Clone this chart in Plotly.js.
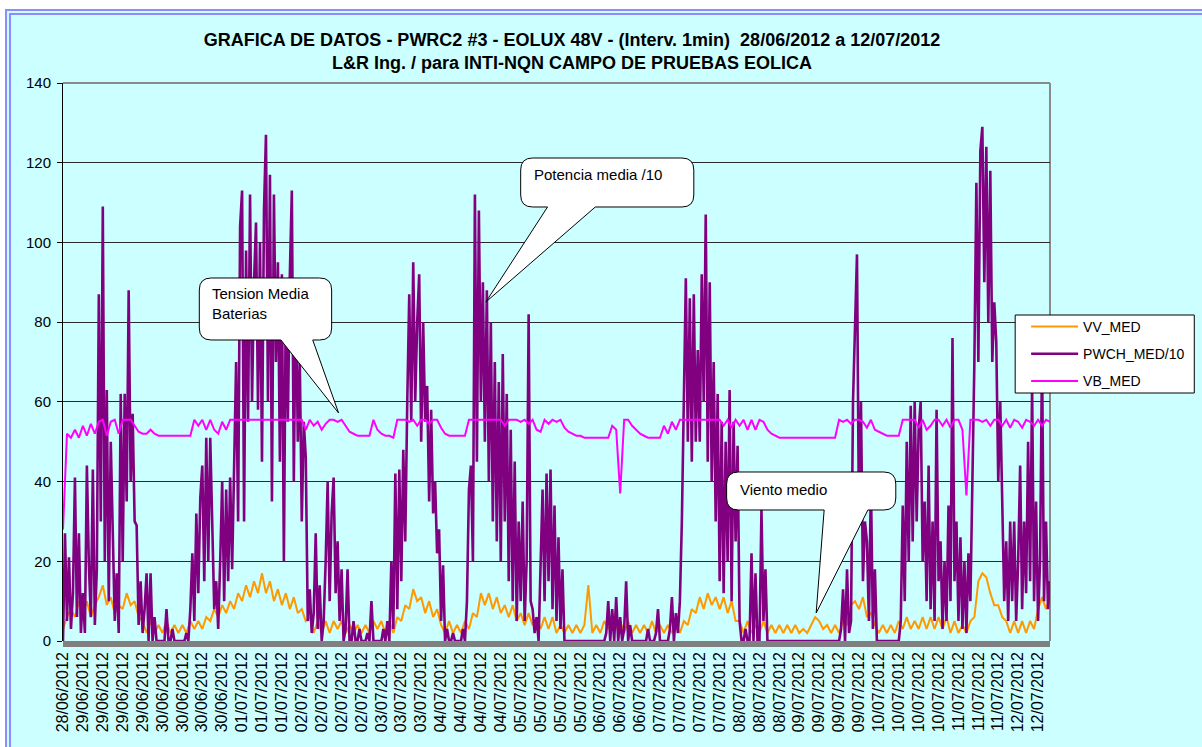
<!DOCTYPE html>
<html>
<head>
<meta charset="utf-8">
<script src="https://cdn.plot.ly/plotly-3.0.1.min.js"></script>
<style>
  html, body { margin:0; padding:0; background:#ffffff; overflow:hidden; width:1202px; height:747px; }
  #frame { position:absolute; left:5px; top:9px; width:1260px; height:800px; background:#CCFFFF;
           border-left:6px double #8c8cff; border-top:6px double #8c8cff; }
  #chart { position:absolute; left:0; top:0; width:1202px; height:747px; }
</style>
</head>
<body>
<div id="frame"></div>
<div id="chart"></div>
<script>
// ---------------- DATA ----------------
const TITLE_LINE1 = 'GRAFICA DE DATOS - PWRC2 #3 - EOLUX 48V - (Interv. 1min)\u00a0 28/06/2012 a 12/07/2012';
const TITLE_LINE2 = 'L&amp;R Ing. / para INTI-NQN CAMPO DE PRUEBAS EOLICA';

const SERIES_NAMES = ['VV_MED', 'PWCH_MED/10', 'VB_MED'];

const TICK_LABELS = [
  '28/06/2012',
  '29/06/2012','29/06/2012','29/06/2012','29/06/2012',
  '30/06/2012','30/06/2012','30/06/2012','30/06/2012',
  '01/07/2012','01/07/2012','01/07/2012',
  '02/07/2012','02/07/2012','02/07/2012','02/07/2012',
  '03/07/2012','03/07/2012','03/07/2012',
  '04/07/2012','04/07/2012','04/07/2012','04/07/2012',
  '05/07/2012','05/07/2012','05/07/2012','05/07/2012',
  '06/07/2012','06/07/2012','06/07/2012',
  '07/07/2012','07/07/2012','07/07/2012','07/07/2012',
  '08/07/2012','08/07/2012','08/07/2012',
  '09/07/2012','09/07/2012','09/07/2012','09/07/2012',
  '10/07/2012','10/07/2012','10/07/2012','10/07/2012',
  '11/07/2012','11/07/2012','11/07/2012',
  '12/07/2012','12/07/2012'
];

// time step (in tick-label intervals) of each sampled series
const PWCH_STEP = 0.1;
const VV_STEP = 0.2;
const VB_STEP = 0.2;

// Potencia media /10 (PWCH_MED/10)
const PWCH_MED_10 = [
  0,27,5,21,3,12,41,6,27,2,
  12,2,44,19,6,43,4,18,87,30,
  109,20,63,10,50,28,5,17,2,62,
  20,62,35,88,40,57,30,29,4,15,
  2,8,17,0,17,0,6,0,0,0,
  0,0,8,0,0,3,0,0,0,0,
  0,0,2,0,8,22,5,32,12,36,
  44,15,51,20,51,30,8,15,3,20,
  40,10,38,15,41,18,45,70,30,104,
  113,30,98,55,112,60,90,105,58,100,
  45,108,127,60,117,35,112,70,95,45,
  92,20,88,55,92,113,40,90,50,70,
  30,55,46,5,13,2,7,27,3,14,
  0,5,20,40,10,32,41,12,25,5,
  18,0,3,18,0,0,5,0,0,3,
  0,0,0,2,0,10,0,0,0,0,
  0,3,0,5,0,20,3,42,8,43,
  15,48,25,60,87,55,95,60,80,92,
  50,80,55,64,35,58,32,40,22,28,
  5,19,0,3,0,0,2,0,0,0,
  0,3,0,10,38,44,20,112,45,108,
  60,90,50,88,40,80,30,70,25,65,
  20,72,30,62,15,53,10,45,5,30,
  10,35,5,20,82,10,8,2,6,0,
  20,38,10,42,15,43,8,34,5,26,
  3,18,0,0,0,0,0,0,0,0,
  0,0,0,0,0,0,0,0,0,0,
  0,0,0,2,10,0,8,0,11,0,
  6,0,3,15,0,4,0,0,0,0,
  0,0,0,0,3,0,0,0,2,8,
  0,0,0,0,0,3,11,0,7,2,
  10,30,60,91,50,86,45,87,50,73,
  50,92,60,107,45,90,40,70,30,62,
  15,55,12,50,20,63,10,55,25,49,
  5,0,0,3,0,0,22,0,17,0,
  0,33,5,18,0,0,0,0,0,0,
  0,0,0,0,0,0,0,0,0,0,
  0,0,0,0,0,0,0,0,0,0,
  0,0,0,0,0,0,0,0,0,0,
  0,3,13,0,18,2,5,60,82,97,
  30,60,15,30,25,5,40,3,18,0,
  0,0,0,0,0,0,0,0,0,0,
  0,5,34,10,50,20,59,25,60,30,
  53,60,20,35,10,44,8,30,5,58,
  15,25,3,20,5,34,10,76,15,30,
  5,26,3,20,2,22,10,40,70,115,
  70,123,129,90,124,80,118,70,85,75,
  40,60,35,10,25,5,30,10,30,5,
  20,44,8,30,12,50,15,64,10,35,
  5,20,72,10,30,8,15
];

// Viento medio (VV_MED)
const VV_MED = [
  3,6,8,6,10,
  7,10,6,9,11,
  14,9,11,7,9,
  8,12,9,10,6,
  5,2,5,2,4,
  2,5,2,4,2,
  4,2,5,3,5,
  3,6,5,8,6,
  9,7,10,8,12,
  10,14,11,15,12,
  17,12,15,10,13,
  9,12,8,11,7,
  8,5,6,2,5,
  2,5,2,5,3,
  5,2,4,2,4,
  2,4,2,5,3,
  5,2,5,2,6,
  5,9,8,13,10,
  11,7,10,6,8,
  4,2,5,2,4,
  2,5,3,7,6,
  12,9,12,8,11,
  7,9,6,9,5,
  7,4,7,4,6,
  3,6,3,6,2,
  4,2,4,2,4,
  2,4,14,2,4,
  2,5,3,6,3,
  5,2,5,2,4,
  2,4,2,5,2,
  4,2,4,2,4,
  2,5,4,8,7,
  11,8,12,9,11,
  8,11,7,10,5,
  5,2,5,2,4,
  2,5,2,4,2,
  4,2,4,2,4,
  2,3,2,4,6,
  5,3,4,2,4,
  2,5,4,9,10,
  8,11,6,7,4,
  2,4,2,4,2,
  5,3,6,3,5,
  3,6,3,6,3,
  6,3,6,2,5,
  2,4,2,5,6,
  15,17,16,12,9,
  9,6,5,2,5,
  2,5,2,5,3,
  8,11,8,11
];

// Tension media baterias (VB_MED)
const VB_MED = [
  28,52,51,53,51,
  54,51.5,54.5,52,55,
  55.5,51.5,55,55.5,52,
  55.5,55.5,55.5,54,52.5,
  52,52,53,52,51.5,
  51.5,51.5,51.5,51.5,51.5,
  51.5,51.5,51.5,55.5,54,
  55.5,53,55.5,53,52,
  55,53,55.5,55.5,55.5,
  55.5,55.5,55.5,55.5,55.5,
  55.5,55.5,55.5,55.5,55.5,
  55.5,55.5,55.5,55.5,55.5,
  55.5,53,55.5,54,55,
  53,54.5,55.5,55.5,55,
  55.5,54,52.5,52,51.5,
  51.5,51.5,51.5,55.5,53,
  52,51.5,51.5,51,55.5,
  55.5,55.5,55,55.5,54,
  55.5,55.5,54.5,55.5,55.5,
  53.5,52,51.5,51.5,51.5,
  51.5,51.5,55.5,55.5,55.5,
  55.5,55.5,55.5,55.5,55.5,
  55.5,54,55.5,55.5,55.5,
  55,55.5,54.5,55.5,53,
  52.5,55.5,54.5,55.5,55,
  55.5,53.5,52.5,52,51.5,
  51.5,51,51,51,51,
  51,51,51,54,53,
  37,55.5,55.5,54,53,
  52,51.5,51,51,51,
  51,54,52,55,53,
  55.5,55.5,55.5,55.5,55.5,
  55.5,55.5,55.5,55.5,55.5,
  55.5,54,55.5,53.5,55.5,
  54,55.5,53,55.5,53,
  55.5,55,53,52,51.5,
  51,51,51,51,51,
  51,51,51,51,51,
  51,51,51,51,51,
  55.5,55,55.5,54.5,55.5,
  55.5,55,53.5,55.5,53,
  52.5,52,51.5,51.5,51.5,
  51.5,55.5,55.5,55.5,55.5,
  53.5,55.5,53,54,55.5,
  55.5,54,55.5,53.5,55.5,
  55.5,53,36.5,55.5,55.5,
  55.5,55,55.5,54,55.5,
  55.5,54,55.5,53.5,55.5,
  55,53.5,55.5,55,54,
  55.5,54,55.5,55
];

const CALLOUT_TEXTS = ['Tension Media<br>Baterias', 'Potencia media /10', 'Viento medio'];

// ---------------- LAYOUT HELPERS ----------------
const W = 1202, H = 747;
const M = {l:63, r:147, t:83, b:106};
const PW = W - M.l - M.r, PH = H - M.t - M.b;
const px2x = X => (X - M.l) / PW;
const px2y = Y => (H - M.b - Y) / PH;
const P = (X, Y) => px2x(X).toFixed(5) + ',' + px2y(Y).toFixed(5);

function bubblePath(b) {
  const r = 12;
  const {x0, y0, x1, y1, b1, b2, tx, ty} = b;
  return 'M' + P(x0 + r, y0) + ' L' + P(x1 - r, y0) + ' Q' + P(x1, y0) + ' ' + P(x1, y0 + r) +
         ' L' + P(x1, y1 - r) + ' Q' + P(x1, y1) + ' ' + P(x1 - r, y1) +
         ' L' + P(b2, y1) + ' L' + P(tx, ty) + ' L' + P(b1, y1) +
         ' L' + P(x0 + r, y1) + ' Q' + P(x0, y1) + ' ' + P(x0, y1 - r) +
         ' L' + P(x0, y0 + r) + ' Q' + P(x0, y0) + ' ' + P(x0 + r, y0) + ' Z';
}

const BUBBLES = [
  {x0:200, y0:278, x1:333, y1:340, b1:282, b2:314, tx:340, ty:413, textX:211, textY:303},
  {x0:523, y0:158, x1:697, y1:207, b1:550, b2:598, tx:488, ty:302, textX:534, textY:174},
  {x0:730, y0:472, x1:900, y1:510, b1:828, b2:872, tx:820, ty:613, textX:741, textY:489}
];

const FONT = 'Liberation Sans, Arial, Helvetica, sans-serif';
const xs = (arr, step) => arr.map((_, i) => +(i * step).toFixed(3));

const traces = [
  {x: xs(VV_MED, VV_STEP), y: VV_MED, name: SERIES_NAMES[0], type: 'scatter', mode: 'lines',
   line: {color: '#FF9900', width: 2}, legendgroup: 'g1', hoverinfo: 'skip'},
  {x: xs(PWCH_MED_10, PWCH_STEP), y: PWCH_MED_10, name: SERIES_NAMES[1], type: 'scatter', mode: 'lines',
   line: {color: '#800080', width: 2.6}, legendgroup: 'g2', hoverinfo: 'skip'},
  {x: xs(VB_MED, VB_STEP), y: VB_MED, name: SERIES_NAMES[2], type: 'scatter', mode: 'lines',
   line: {color: '#FF00FF', width: 2}, legendgroup: 'g3', hoverinfo: 'skip'}
];

const shapes = [
  {type: 'line', xref: 'paper', yref: 'paper', x0: 0, x1: 1, y0: 1, y1: 1, line: {color: '#8a8a8a', width: 2}, layer: 'below'},
  {type: 'line', xref: 'paper', yref: 'paper', x0: 1, x1: 1, y0: 0, y1: 1, line: {color: '#8a8a8a', width: 2}, layer: 'below'},
  {type: 'rect', xref: 'paper', yref: 'paper', x0: 0, x1: 1, y0: px2y(647), y1: 0,
   fillcolor: '#808080', line: {width: 0}, layer: 'below'},
  {type: 'rect', xref: 'paper', yref: 'paper', x0: px2x(1020), x1: px2x(1200), y0: px2y(393), y1: px2y(315),
   fillcolor: '#ffffff', line: {color: '#000000', width: 1}, layer: 'above'}
];
BUBBLES.forEach(b => shapes.push({type: 'path', xref: 'paper', yref: 'paper', path: bubblePath(b),
  fillcolor: '#ffffff', line: {color: '#000000', width: 1}, layer: 'above'}));

const annotations = BUBBLES.map((b, i) => ({
  xref: 'paper', yref: 'paper', x: px2x(b.textX), y: px2y(b.textY), xanchor: 'left', yanchor: 'middle',
  align: 'left', showarrow: false, text: CALLOUT_TEXTS[i], font: {family: FONT, size: 15, color: '#000'}
}));

const layout = {
  width: W, height: H,
  margin: M,
  paper_bgcolor: 'rgba(0,0,0,0)',
  plot_bgcolor: 'rgba(0,0,0,0)',
  font: {family: FONT, color: '#000'},
  title: {text: '<b>' + TITLE_LINE1 + '</b><br><b>' + TITLE_LINE2 + '</b>',
          font: {family: FONT, size: 18, color: '#000'},
          xref: 'container', yref: 'container', x: 572 / W, xanchor: 'center', y: 1 - 46 / H, yanchor: 'top'},
  xaxis: {range: [0, 49.6], tickmode: 'array', tickvals: TICK_LABELS.map((_, i) => i), ticktext: TICK_LABELS,
          tickangle: -90, ticks: '', showgrid: false, zeroline: false, showline: false,
          tickfont: {family: FONT, size: 16, color: '#000'}, ticklabelstandoff: 7, fixedrange: true},
  yaxis: {range: [0, 140], dtick: 20, tick0: 0, ticks: 'outside', ticklen: 5, tickcolor: '#000', tickwidth: 1,
          showline: true, linecolor: '#000', linewidth: 1, showgrid: true, gridcolor: '#2a2a2a', gridwidth: 1,
          zeroline: false, tickfont: {family: FONT, size: 15, color: '#000'}, ticklabelstandoff: 3, fixedrange: true},
  showlegend: true,
  legend: {x: px2x(1031), y: px2y(311), xanchor: 'left', yanchor: 'top', bgcolor: 'rgba(0,0,0,0)',
           borderwidth: 0, font: {family: FONT, size: 14, color: '#000'}, traceorder: 'grouped',
           tracegroupgap: 6, itemwidth: 47},
  shapes: shapes,
  annotations: annotations
};

Plotly.newPlot('chart', traces, layout, {staticPlot: true, displayModeBar: false});
</script>
</body>
</html>
